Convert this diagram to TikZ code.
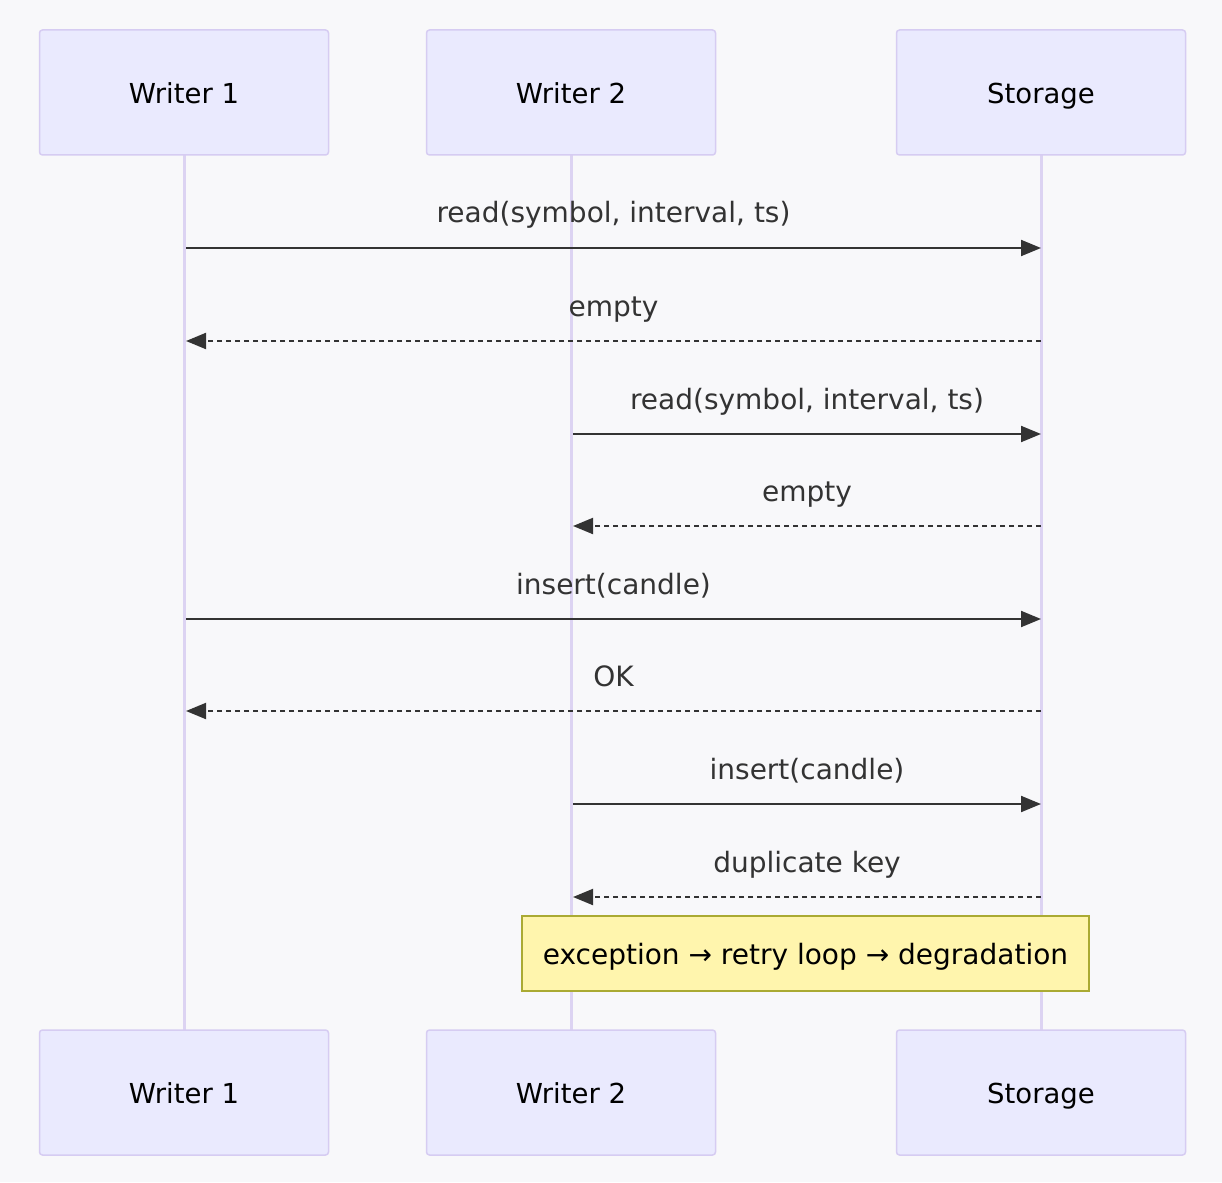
\documentclass[tikz,border=0pt]{standalone}
\usepackage{fontspec}
\setmainfont{DejaVu Sans}
\usetikzlibrary{arrows.meta}
\definecolor{bg}{HTML}{F8F8FA}
\definecolor{actfill}{HTML}{EAEAFE}
\definecolor{actline}{HTML}{D6CCF2}
\definecolor{lifeline}{HTML}{DCD3F2}
\definecolor{msg}{HTML}{333333}
\definecolor{notefill}{HTML}{FFF5AD}
\definecolor{noteline}{HTML}{AAAA33}
\begin{document}
\begin{tikzpicture}[x=1pt,y=-1pt,
  actor/.style={draw=actline,line width=1.5pt,fill=actfill,rounded corners=3pt,minimum width=289pt,minimum height=125pt,font=\fontsize{27.5}{32}\selectfont,text=black,text height=24pt,text depth=2pt},
  life/.style={draw=lifeline,line width=3pt},
  call/.style={draw=msg,line width=2pt,-{Triangle[length=20pt,width=16pt]}},
  reply/.style={call,dash pattern=on 5pt off 4pt},
  lbl/.style={font=\fontsize{28}{32}\selectfont,text=msg,anchor=base,yshift=25pt}]
\fill[bg] (0,0) rectangle (1222,1182);
\useasboundingbox (0,0) rectangle (1222,1182);
\foreach \n/\x/\t in {a/184/Writer 1,b/571/Writer 2,c/1041/Storage}{
  \draw[life] (\x,155) -- (\x,1030);
  \node[actor] (\n top) at (\x,92.5) {\t};
  \node[actor] (\n bot) at (\x,1092.5) {\t};
}
\foreach \y in {248,341,434,526,619,711,804,897}{
  \coordinate (a\y) at (186,\y); \coordinate (b\y) at (573,\y); \coordinate (c\y) at (1041,\y);
}
\draw[call] (a248) -- (c248) node[lbl,midway] {read(symbol, interval, ts)};
\draw[reply] (c341) -- (a341) node[lbl,midway] {empty};
\draw[call] (b434) -- (c434) node[lbl,midway] {read(symbol, interval, ts)};
\draw[reply] (c526) -- (b526) node[lbl,midway] {empty};
\draw[call] (a619) -- (c619) node[lbl,midway] {insert(candle)};
\draw[reply] (c711) -- (a711) node[lbl,midway] {OK};
\draw[call] (b804) -- (c804) node[lbl,midway] {insert(candle)};
\draw[reply] (c897) -- (b897) node[lbl,midway] {duplicate key};
\node[draw=noteline,line width=1.5pt,fill=notefill,minimum width=567pt,minimum height=75pt,font=\fontsize{28}{32}\selectfont,text height=24pt,text depth=2pt] (note) at (805.5,953.5) {exception → retry loop → degradation};
\end{tikzpicture}
\end{document}
